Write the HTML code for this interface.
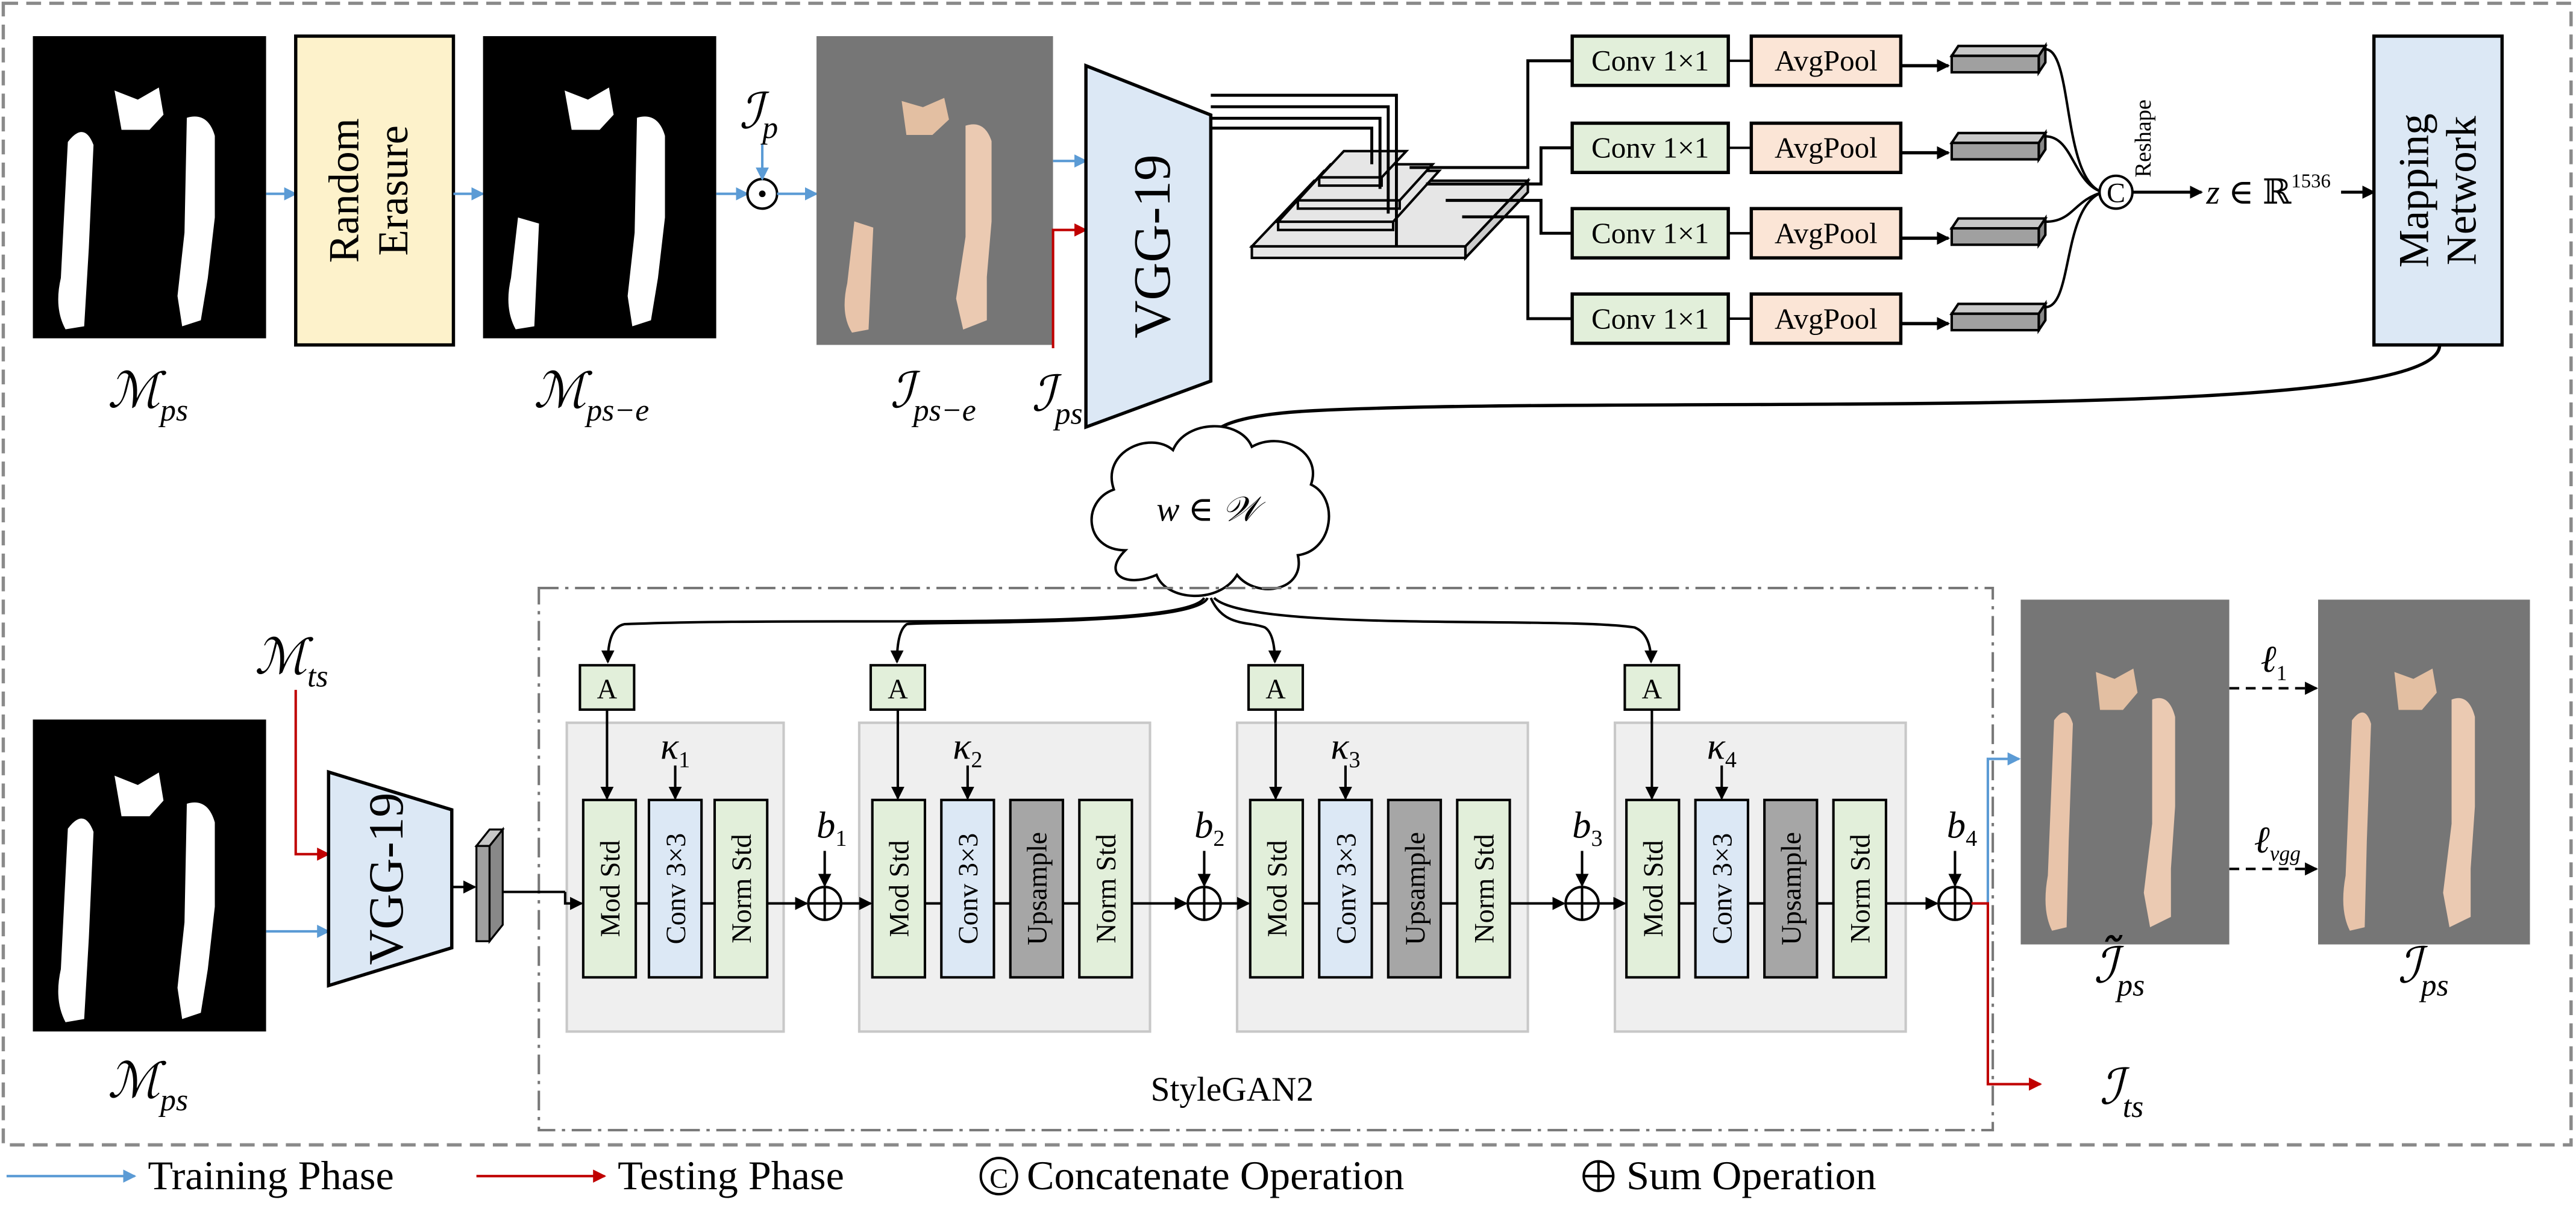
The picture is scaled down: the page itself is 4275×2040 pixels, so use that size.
<!DOCTYPE html>
<html><head><meta charset="utf-8"><style>
html,body{margin:0;padding:0;background:#fff;}
svg{display:block;}
svg, svg text{font-family:"Liberation Serif","DejaVu Serif",serif;}
</style></head><body>
<svg width="4275" height="2040" viewBox="0 0 1568 748.2" preserveAspectRatio="none" xmlns="http://www.w3.org/2000/svg" font-family="Liberation Serif, serif">
<defs>
<marker id="ab" markerWidth="8" markerHeight="8" refX="7" refY="4" orient="auto" markerUnits="userSpaceOnUse"><path d="M0,0 L8,4 L0,8 z" fill="#000"/></marker>
<marker id="abl" markerWidth="8" markerHeight="8" refX="7" refY="4" orient="auto" markerUnits="userSpaceOnUse"><path d="M0,0 L8,4 L0,8 z" fill="#5b9bd5"/></marker>
<marker id="ar" markerWidth="8" markerHeight="8" refX="7" refY="4" orient="auto" markerUnits="userSpaceOnUse"><path d="M0,0 L8,4 L0,8 z" fill="#c00000"/></marker>
<symbol id="mask" viewBox="0 0 100 100" preserveAspectRatio="none">
<rect width="100" height="100" fill="#000"/>
<path d="M35,18 L45,21 L54,17 L56,26 L50,31 L38,31 z" fill="#fff"/>
<path d="M15,35 Q22,28 26,36 L24,70 L22,96 L14,97 Q9,90 12,80 z" fill="#fff"/>
<path d="M66,27 Q75,25 78,33 L78,60 L75,80 L72,94 L64,96 L62,86 L65,65 z" fill="#fff"/>
</symbol>
<symbol id="maske" viewBox="0 0 100 100" preserveAspectRatio="none">
<rect width="100" height="100" fill="#000"/>
<path d="M35,18 L45,21 L54,17 L56,26 L50,31 L38,31 z" fill="#fff"/>
<path d="M15,60 L24,62 L22,96 L14,97 Q9,90 12,80 z" fill="#fff"/>
<path d="M66,27 Q75,25 78,33 L78,60 L75,80 L72,94 L64,96 L62,86 L65,65 z" fill="#fff"/>
</symbol>
<symbol id="pers" viewBox="0 0 100 100" preserveAspectRatio="none">
<rect width="100" height="100" fill="#767676"/>
<path d="M36,21 L45,23 L54,20 L56,27 L49,32 L38,32 z" fill="#e3bfa2"/>
<path d="M16,35 Q22,30 25,36 L23,70 L22,95 L15,96 Q10,90 13,80 z" fill="#e8c4aa"/>
<path d="M63,29 Q71,27 74,34 L74,60 L72,78 L72,92 L62,95 L59,85 L63,65 z" fill="#ebcab2"/>
</symbol>
<symbol id="perse" viewBox="0 0 100 100" preserveAspectRatio="none">
<rect width="100" height="100" fill="#767676"/>
<path d="M36,21 L45,23 L54,20 L56,27 L49,32 L38,32 z" fill="#e3bfa2"/>
<path d="M16,60 L24,62 L22,95 L15,96 Q10,90 13,80 z" fill="#e8c4aa"/>
<path d="M63,29 Q71,27 74,34 L74,60 L72,78 L72,92 L62,95 L59,85 L63,65 z" fill="#ebcab2"/>
</symbol>
</defs>

<rect x="2" y="2" width="1563" height="695" fill="none" stroke="#8a8a8a" stroke-width="2" stroke-dasharray="9,5"/>

<!-- TOP ROW -->
<use href="#mask" x="20" y="22" width="142" height="184"/>
<text x="90" y="248" font-size="30" font-style="italic" text-anchor="middle">ℳ<tspan font-size="19" dy="8">ps</tspan></text>
<line x1="162" y1="118" x2="180" y2="118" stroke="#5b9bd5" stroke-width="1.5" marker-end="url(#abl)"/>
<rect x="180" y="22" width="96" height="188" fill="#fdf2cb" stroke="#000" stroke-width="2"/>
<text transform="translate(218,116) rotate(-90)" font-size="26" text-anchor="middle">Random</text>
<text transform="translate(248,116) rotate(-90)" font-size="26" text-anchor="middle">Erasure</text>
<line x1="276" y1="118" x2="294" y2="118" stroke="#5b9bd5" stroke-width="1.5" marker-end="url(#abl)"/>
<use href="#maske" x="294" y="22" width="142" height="184"/>
<text x="360" y="248" font-size="30" font-style="italic" text-anchor="middle">ℳ<tspan font-size="19" dy="8">ps−e</tspan></text>
<line x1="436" y1="118" x2="455" y2="118" stroke="#5b9bd5" stroke-width="1.5" marker-end="url(#abl)"/>
<circle cx="464" cy="118" r="9" fill="#fff" stroke="#000" stroke-width="1.5"/><circle cx="464" cy="118" r="2" fill="#000"/>
<text x="450" y="78" font-size="30" font-style="italic">ℐ<tspan font-size="19" dy="6">p</tspan></text>
<line x1="464" y1="88" x2="464" y2="109" stroke="#5b9bd5" stroke-width="1.5" marker-end="url(#abl)"/>
<line x1="473" y1="118" x2="497" y2="118" stroke="#5b9bd5" stroke-width="1.5" marker-end="url(#abl)"/>
<use href="#perse" x="497" y="22" width="144" height="188"/>
<text x="568" y="248" font-size="30" font-style="italic" text-anchor="middle">ℐ<tspan font-size="19" dy="8">ps−e</tspan></text>
<line x1="641" y1="98" x2="661" y2="98" stroke="#5b9bd5" stroke-width="1.5" marker-end="url(#abl)"/>
<polyline points="641,212 641,140 661,140" fill="none" stroke="#c00000" stroke-width="1.5" marker-end="url(#ar)"/>
<text x="628" y="250" font-size="30" font-style="italic">ℐ<tspan font-size="19" dy="8">ps</tspan></text>
<polygon points="661,40 737,70 737,232 661,260" fill="#dce8f5" stroke="#000" stroke-width="2"/>
<text transform="translate(712,150) rotate(-90)" font-size="32" text-anchor="middle">VGG-19</text>

<g stroke="#000" stroke-width="1.5">
<polygon points="762,150 800,110 930,110 892,150" fill="#e6e6e6"/><rect x="762" y="150" width="130" height="7" fill="#e6e6e6"/>
<polygon points="892,150 930,110 930,117 892,157" fill="#ccc"/>
<polygon points="778,135 806,104 876,104 848,135" fill="#e6e6e6"/><rect x="778" y="135" width="70" height="5" fill="#e6e6e6"/>
<polygon points="790,122 810,100 872,100 852,122" fill="#e6e6e6"/><rect x="790" y="122" width="62" height="5" fill="#e6e6e6"/>
<polygon points="803,108 818,92 856,92 841,108" fill="#e6e6e6"/><rect x="803" y="108" width="38" height="5" fill="#e6e6e6"/>
</g>
<g fill="none" stroke="#000" stroke-width="1.8">
<polyline points="737,58 850,58 850,150"/>
<polyline points="737,65 845,65 845,130"/>
<polyline points="737,72 840,72 840,115"/>
<polyline points="737,78 835,78 835,100"/>
<polyline points="858,102 930,102 930,37 957,37"/>
<polyline points="868,112 938,112 938,90 957,90"/>
<polyline points="880,122 938,122 938,142 957,142"/>
<polyline points="890,132 930,132 930,194 957,194"/>
</g>
<g font-size="18">
<g id="r1">
<rect x="957" y="22" width="95" height="30" fill="#e2efda" stroke="#000" stroke-width="2"/>
<text x="1004.5" y="43" text-anchor="middle">Conv 1×1</text>
<line x1="1052" y1="37" x2="1066" y2="37" stroke="#000" stroke-width="1.5"/>
<rect x="1066" y="22" width="91" height="30" fill="#fbe5d6" stroke="#000" stroke-width="2"/>
<text x="1111.5" y="43" text-anchor="middle">AvgPool</text>
<line x1="1157" y1="40" x2="1186" y2="40" stroke="#000" stroke-width="2" marker-end="url(#ab)"/>
<polygon points="1188,34 1192,28 1245,28 1241,34" fill="#c8c8c8" stroke="#000" stroke-width="1.5"/>
<rect x="1188" y="34" width="53" height="10" fill="#a0a0a0" stroke="#000" stroke-width="1.5"/>
<polygon points="1241,34 1245,28 1245,38 1241,44" fill="#888" stroke="#000" stroke-width="1.5"/>
</g>
<use href="#r1" y="53"/>
<use href="#r1" y="105"/>
<use href="#r1" y="157"/>
</g>
<g fill="none" stroke="#000" stroke-width="1.5">
<path d="M1245,30 C1262,30 1255,110 1280,117"/>
<path d="M1245,83 C1262,83 1262,112 1280,117"/>
<path d="M1245,135 C1262,135 1262,122 1280,117"/>
<path d="M1245,187 C1262,187 1255,125 1280,117"/>
</g>
<circle cx="1288" cy="117" r="10" fill="#fff" stroke="#000" stroke-width="1.5"/>
<text x="1288" y="123" font-size="17" text-anchor="middle">C</text>
<text transform="translate(1309,108) rotate(-90)" font-size="14">Reshape</text>
<line x1="1298" y1="117" x2="1340" y2="117" stroke="#000" stroke-width="1.8" marker-end="url(#ab)"/>
<text x="1343" y="124" font-size="21" font-style="italic">z <tspan font-style="normal">∈ ℝ</tspan><tspan font-style="normal" font-size="12" dy="-10">1536</tspan></text>
<line x1="1425" y1="117" x2="1445" y2="117" stroke="#000" stroke-width="1.8" marker-end="url(#ab)"/>
<rect x="1445" y="22" width="78" height="188" fill="#dce8f5" stroke="#000" stroke-width="2"/>
<text transform="translate(1478,116) rotate(-90)" font-size="26" text-anchor="middle">Mapping</text>
<text transform="translate(1507,116) rotate(-90)" font-size="26" text-anchor="middle">Network</text>
<path d="M1485,210 C1485,260 1000,240 800,250 C760,252 738,258 736,268" fill="none" stroke="#000" stroke-width="2" marker-end="url(#ab)"/>

<!-- cloud -->
<path d="M685,335 C660,335 658,305 678,298 C670,275 700,262 714,274 C722,255 755,255 762,272 C780,262 805,275 798,295 C815,303 812,335 790,338 C795,360 765,365 753,350 C742,368 710,366 704,350 C686,358 670,350 685,335 z" fill="#fff" stroke="#000" stroke-width="1.5"/>
<text x="735" y="317" font-size="21" font-style="italic" text-anchor="middle">w <tspan font-style="normal">∈</tspan> 𝒲</text>

<rect x="328" y="358" width="885" height="330" fill="none" stroke="#777" stroke-width="1.5" stroke-dasharray="12,4,2,4"/>
<text x="750" y="670" font-size="21" text-anchor="middle">StyleGAN2</text>

<g fill="none" stroke="#000" stroke-width="1.5">
<path d="M733,364 C720,385 500,375 380,380 Q370,382 370,403" marker-end="url(#ab)"/>
<path d="M735,364 C728,382 560,378 552,380 Q546,384 546,403" marker-end="url(#ab)"/>
<path d="M737,364 C745,382 760,378 770,382 Q776,386 776,403" marker-end="url(#ab)"/>
<path d="M739,364 C760,385 950,375 995,382 Q1005,386 1005,403" marker-end="url(#ab)"/>
</g>

<g font-size="17">
<rect x="345" y="440" width="132" height="188" fill="#efefef" stroke="#c8c8c8" stroke-width="1.5"/>
<rect x="523" y="440" width="177" height="188" fill="#efefef" stroke="#c8c8c8" stroke-width="1.5"/>
<rect x="753" y="440" width="177" height="188" fill="#efefef" stroke="#c8c8c8" stroke-width="1.5"/>
<rect x="983" y="440" width="177" height="188" fill="#efefef" stroke="#c8c8c8" stroke-width="1.5"/>
<rect x="353" y="405" width="33" height="27" fill="#e2efda" stroke="#000" stroke-width="1.5"/><text x="369.5" y="425" text-anchor="middle">A</text>
<rect x="530" y="405" width="33" height="27" fill="#e2efda" stroke="#000" stroke-width="1.5"/><text x="546.5" y="425" text-anchor="middle">A</text>
<rect x="760" y="405" width="33" height="27" fill="#e2efda" stroke="#000" stroke-width="1.5"/><text x="776.5" y="425" text-anchor="middle">A</text>
<rect x="989" y="405" width="33" height="27" fill="#e2efda" stroke="#000" stroke-width="1.5"/><text x="1005.5" y="425" text-anchor="middle">A</text>
</g>
<g stroke="#000" stroke-width="1.5" fill="none">
<line x1="369.5" y1="432" x2="369.5" y2="486" marker-end="url(#ab)"/>
<line x1="546.5" y1="432" x2="546.5" y2="486" marker-end="url(#ab)"/>
<line x1="776.5" y1="432" x2="776.5" y2="486" marker-end="url(#ab)"/>
<line x1="1005.5" y1="432" x2="1005.5" y2="486" marker-end="url(#ab)"/>
<line x1="411" y1="466" x2="411" y2="486" marker-end="url(#ab)"/>
<line x1="589" y1="466" x2="589" y2="486" marker-end="url(#ab)"/>
<line x1="819" y1="466" x2="819" y2="486" marker-end="url(#ab)"/>
<line x1="1048" y1="466" x2="1048" y2="486" marker-end="url(#ab)"/>
</g>
<g stroke="#000" stroke-width="1.5">
<line x1="387" y1="550" x2="395" y2="550"/><line x1="427" y1="550" x2="435" y2="550"/>
<rect x="355" y="487" width="32" height="108" fill="#e2efda"/>
<rect x="395" y="487" width="32" height="108" fill="#dce8f5"/>
<rect x="435" y="487" width="32" height="108" fill="#e2efda"/>
<line x1="563" y1="550" x2="657" y2="550"/>
<rect x="531" y="487" width="32" height="108" fill="#e2efda"/>
<rect x="573" y="487" width="32" height="108" fill="#dce8f5"/>
<rect x="615" y="487" width="32" height="108" fill="#a6a6a6"/>
<rect x="657" y="487" width="32" height="108" fill="#e2efda"/>
<line x1="793" y1="550" x2="887" y2="550"/>
<rect x="761" y="487" width="32" height="108" fill="#e2efda"/>
<rect x="803" y="487" width="32" height="108" fill="#dce8f5"/>
<rect x="845" y="487" width="32" height="108" fill="#a6a6a6"/>
<rect x="887" y="487" width="32" height="108" fill="#e2efda"/>
<line x1="1022" y1="550" x2="1116" y2="550"/>
<rect x="990" y="487" width="32" height="108" fill="#e2efda"/>
<rect x="1032" y="487" width="32" height="108" fill="#dce8f5"/>
<rect x="1074" y="487" width="32" height="108" fill="#a6a6a6"/>
<rect x="1116" y="487" width="32" height="108" fill="#e2efda"/>
</g>
<g font-size="17">
<text transform="translate(377,541) rotate(-90)" text-anchor="middle">Mod Std</text>
<text transform="translate(417,541) rotate(-90)" text-anchor="middle">Conv 3×3</text>
<text transform="translate(457,541) rotate(-90)" text-anchor="middle">Norm Std</text>
<text transform="translate(553,541) rotate(-90)" text-anchor="middle">Mod Std</text>
<text transform="translate(595,541) rotate(-90)" text-anchor="middle">Conv 3×3</text>
<text transform="translate(637,541) rotate(-90)" text-anchor="middle">Upsample</text>
<text transform="translate(679,541) rotate(-90)" text-anchor="middle">Norm Std</text>
<text transform="translate(783,541) rotate(-90)" text-anchor="middle">Mod Std</text>
<text transform="translate(825,541) rotate(-90)" text-anchor="middle">Conv 3×3</text>
<text transform="translate(867,541) rotate(-90)" text-anchor="middle">Upsample</text>
<text transform="translate(909,541) rotate(-90)" text-anchor="middle">Norm Std</text>
<text transform="translate(1012,541) rotate(-90)" text-anchor="middle">Mod Std</text>
<text transform="translate(1054,541) rotate(-90)" text-anchor="middle">Conv 3×3</text>
<text transform="translate(1096,541) rotate(-90)" text-anchor="middle">Upsample</text>
<text transform="translate(1138,541) rotate(-90)" text-anchor="middle">Norm Std</text>
</g>
<g font-size="23" font-style="italic">
<text x="402" y="462">κ<tspan font-size="14" dy="5" font-style="normal">1</tspan></text>
<text x="580" y="462">κ<tspan font-size="14" dy="5" font-style="normal">2</tspan></text>
<text x="810" y="462">κ<tspan font-size="14" dy="5" font-style="normal">3</tspan></text>
<text x="1039" y="462">κ<tspan font-size="14" dy="5" font-style="normal">4</tspan></text>
<text x="497" y="510">b<tspan font-size="14" dy="5" font-style="normal">1</tspan></text>
<text x="727" y="510">b<tspan font-size="14" dy="5" font-style="normal">2</tspan></text>
<text x="957" y="510">b<tspan font-size="14" dy="5" font-style="normal">3</tspan></text>
<text x="1185" y="510">b<tspan font-size="14" dy="5" font-style="normal">4</tspan></text>
</g>
<g stroke="#000" stroke-width="1.5" fill="none">
<line x1="467" y1="550" x2="491" y2="550" marker-end="url(#ab)"/>
<line x1="512" y1="550" x2="530" y2="550" marker-end="url(#ab)"/>
<line x1="689" y1="550" x2="722" y2="550" marker-end="url(#ab)"/>
<line x1="743" y1="550" x2="760" y2="550" marker-end="url(#ab)"/>
<line x1="919" y1="550" x2="952" y2="550" marker-end="url(#ab)"/>
<line x1="973" y1="550" x2="989" y2="550" marker-end="url(#ab)"/>
<line x1="1148" y1="550" x2="1179" y2="550" marker-end="url(#ab)"/>
<line x1="502" y1="518" x2="502" y2="539" marker-end="url(#ab)"/>
<line x1="733" y1="518" x2="733" y2="539" marker-end="url(#ab)"/>
<line x1="963" y1="518" x2="963" y2="539" marker-end="url(#ab)"/>
<line x1="1190" y1="518" x2="1190" y2="539" marker-end="url(#ab)"/>
<line x1="305" y1="543" x2="344" y2="543"/>
<polyline points="344,543 344,550 354,550" marker-end="url(#ab)"/>
</g>
<g fill="#fff" stroke="#000" stroke-width="1.5">
<circle cx="502" cy="550" r="10"/><circle cx="733" cy="550" r="10"/><circle cx="963" cy="550" r="10"/><circle cx="1190" cy="550" r="10"/>
</g>
<g stroke="#000" stroke-width="1.5">
<line x1="492" y1="550" x2="512" y2="550"/><line x1="502" y1="540" x2="502" y2="560"/>
<line x1="723" y1="550" x2="743" y2="550"/><line x1="733" y1="540" x2="733" y2="560"/>
<line x1="953" y1="550" x2="973" y2="550"/><line x1="963" y1="540" x2="963" y2="560"/>
<line x1="1180" y1="550" x2="1200" y2="550"/><line x1="1190" y1="540" x2="1190" y2="560"/>
</g>

<use href="#mask" x="20" y="438" width="142" height="190"/>
<text x="90" y="668" font-size="30" font-style="italic" text-anchor="middle">ℳ<tspan font-size="19" dy="8">ps</tspan></text>
<text x="155" y="410" font-size="30" font-style="italic">ℳ<tspan font-size="19" dy="8">ts</tspan></text>
<polyline points="180,420 180,520 200,520" fill="none" stroke="#c00000" stroke-width="1.5" marker-end="url(#ar)"/>
<line x1="162" y1="567" x2="200" y2="567" stroke="#5b9bd5" stroke-width="1.5" marker-end="url(#abl)"/>
<polygon points="200,470 275,493 275,577 200,600" fill="#dce8f5" stroke="#000" stroke-width="2"/>
<text transform="translate(245,535) rotate(-90)" font-size="30" text-anchor="middle">VGG-19</text>
<line x1="275" y1="540" x2="289" y2="540" stroke="#000" stroke-width="1.5" marker-end="url(#ab)"/>
<polygon points="290,515 298,505 306,505 298,515" fill="#c8c8c8" stroke="#000" stroke-width="1.2"/>
<rect x="290" y="515" width="8" height="58" fill="#a0a0a0" stroke="#000" stroke-width="1.2"/>
<polygon points="298,515 306,505 306,563 298,573" fill="#888" stroke="#000" stroke-width="1.2"/>

<polyline points="1200,550 1210,550 1210,462 1229,462" fill="none" stroke="#5b9bd5" stroke-width="1.5" marker-end="url(#abl)"/>
<polyline points="1200,550 1210,550 1210,660 1242,660" fill="none" stroke="#c00000" stroke-width="1.5" marker-end="url(#ar)"/>
<text x="1278" y="672" font-size="30" font-style="italic">ℐ<tspan font-size="19" dy="8">ts</tspan></text>
<use href="#pers" x="1230" y="365" width="127" height="210"/>
<use href="#pers" x="1411" y="365" width="129" height="210"/>
<line x1="1357" y1="419" x2="1410" y2="419" stroke="#000" stroke-width="1.5" stroke-dasharray="6,4" marker-end="url(#ab)"/>
<line x1="1357" y1="529" x2="1410" y2="529" stroke="#000" stroke-width="1.5" stroke-dasharray="6,4" marker-end="url(#ab)"/>
<text x="1376" y="409" font-size="23" font-style="italic">ℓ<tspan font-size="13" dy="5" font-style="normal">1</tspan></text>
<text x="1372" y="519" font-size="23" font-style="italic">ℓ<tspan font-size="13" dy="5">vgg</tspan></text>
<text x="1290" y="598" font-size="30" font-style="italic" text-anchor="middle">ℐ̃<tspan font-size="19" dy="8">ps</tspan></text>
<text x="1475" y="598" font-size="30" font-style="italic" text-anchor="middle">ℐ<tspan font-size="19" dy="8">ps</tspan></text>

<line x1="4" y1="716" x2="82" y2="716" stroke="#5b9bd5" stroke-width="1.5" marker-end="url(#abl)"/>
<text x="90" y="724" font-size="25">Training Phase</text>
<line x1="290" y1="716" x2="368" y2="716" stroke="#c00000" stroke-width="1.5" marker-end="url(#ar)"/>
<text x="376" y="724" font-size="25">Testing Phase</text>
<circle cx="608" cy="716" r="11" fill="none" stroke="#000" stroke-width="1.5"/>
<text x="608" y="723" font-size="17" text-anchor="middle">C</text>
<text x="625" y="724" font-size="25">Concatenate Operation</text>
<circle cx="973" cy="716" r="9" fill="none" stroke="#000" stroke-width="1.5"/>
<line x1="964" y1="716" x2="982" y2="716" stroke="#000" stroke-width="1.5"/><line x1="973" y1="707" x2="973" y2="725" stroke="#000" stroke-width="1.5"/>
<text x="990" y="724" font-size="25">Sum Operation</text>
</svg>
</body></html>
